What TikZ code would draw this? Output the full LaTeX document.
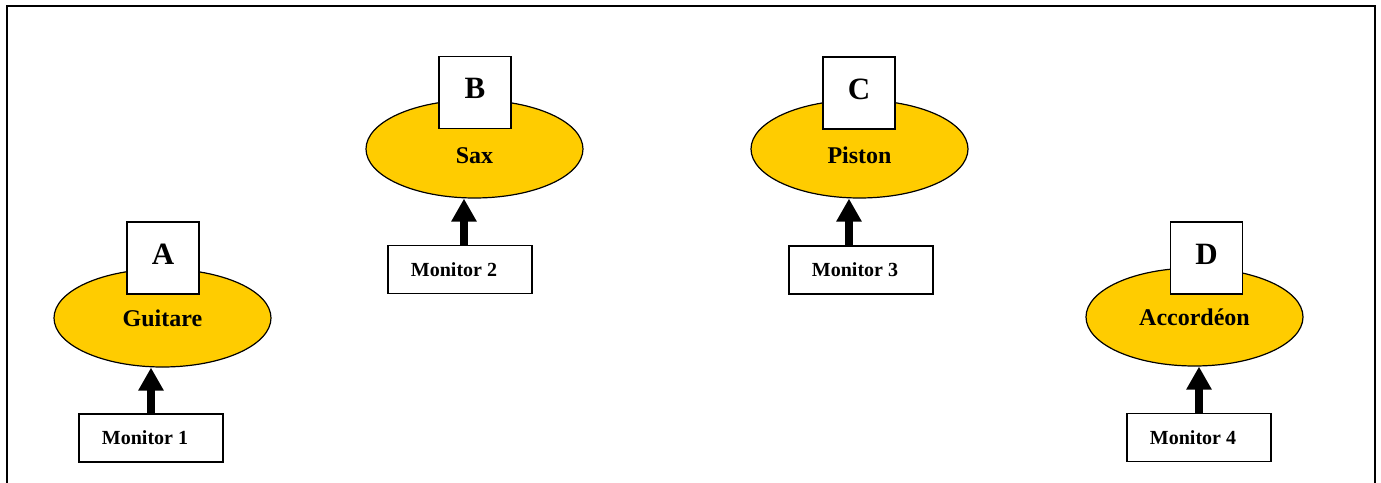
\documentclass[tikz,border=0pt]{standalone}
\usepackage{fontspec}
\setmainfont{Liberation Serif}
\usetikzlibrary{shapes.geometric,arrows.meta}
\definecolor{gelb}{RGB}{255,204,0}

\begin{document}
\begin{tikzpicture}[x=0.5pt,y=-0.5pt,
	instrument/.style={ellipse,draw,line width=0.6pt,fill=gelb,minimum width=108.5pt,minimum height=49pt,inner sep=0pt,font=\fontsize{12}{14}\selectfont\bfseries},
	tief/.style={text height=14pt,text depth=0pt},
	buchstabe/.style={rectangle,draw,line width=0.8pt,fill=white,minimum size=36pt,inner sep=0pt,text depth=4pt,font=\fontsize{15.5}{18}\selectfont\bfseries},
	monitor/.style={rectangle,draw,line width=0.8pt,fill=white,minimum width=72pt,minimum height=24pt,inner sep=0pt,execute at end node=\hspace{6pt},font=\fontsize{10}{12}\selectfont\bfseries},
	pfeil/.style={line width=4pt,-{Triangle[width=12pt,length=11.5pt]}}]
		\useasboundingbox (0,0) rectangle (1381,482);
		% Rahmen
		\draw[line width=1pt] (7,495) -- (7,6) -- (1375,6) -- (1375,495);
		
		% Instrumente
		\coordinate (PA) at (162.5,318);
		\coordinate (PB) at (474.5,149);
		\coordinate (PC) at (859.5,149);
		\coordinate (PD) at (1194.5,317);
		
		\node[instrument] (guitare) at (PA) {Guitare};
		\node[instrument,tief] (sax) at (PB) {Sax};
		\node[instrument,tief] (piston) at (PC) {Piston};
		\node[instrument] (accordeon) at (PD) {Accordéon};
		
		% Buchstaben
		\node[buchstabe] (A) at (163,258) {A};
		\node[buchstabe] (B) at (475,92.5) {B};
		\node[buchstabe] (C) at (859,93) {C};
		\node[buchstabe] (D) at (1206.5,258) {D};
		
		% Monitore
		\node[monitor] (m1) at (151,438) {Monitor 1};
		\node[monitor] (m2) at (460,269.5) {Monitor 2};
		\node[monitor] (m3) at (861,270) {Monitor 3};
		\node[monitor] (m4) at (1199,437.5) {Monitor 4};
		
		% Pfeile
		\draw[pfeil] (m1.north) -- (m1.north |- guitare.south);
		\draw[pfeil] ([xshift=2pt]m2.north) -- ([xshift=2pt]m2.north |- sax.south);
		\draw[pfeil] ([xshift=-6pt]m3.north) -- ([xshift=-6pt]m3.north |- piston.south);
		\draw[pfeil] (m4.north) -- (m4.north |- accordeon.south);
	\end{tikzpicture}
\end{document}
